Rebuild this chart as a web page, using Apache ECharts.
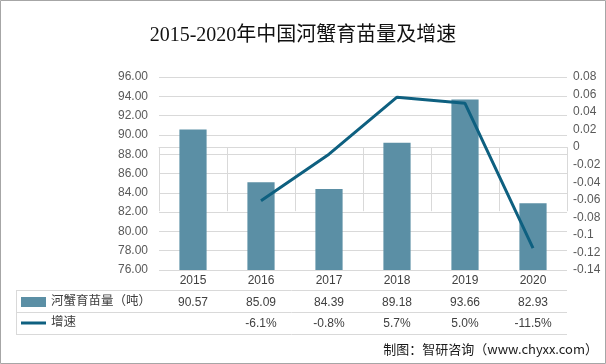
<!DOCTYPE html>
<html><head><meta charset="utf-8">
<script src="https://cdn.jsdelivr.net/npm/echarts@6/dist/echarts.min.js"></script>
<style>html,body{margin:0;padding:0;background:#fff}#c{width:606px;height:364px}</style>
</head><body><div id="c"></div>
<script>
var titleText = '2015-2020年中国河蟹育苗量及增速';
var years = ['2015','2016','2017','2018','2019','2020'];
var output = [90.57, 85.09, 84.39, 89.18, 93.66, 82.93];
var growth = [null, -0.061, -0.008, 0.057, 0.050, -0.115];
var growthLabels = ['', '-6.1%', '-0.8%', '5.7%', '5.0%', '-11.5%'];
var seriesNames = ['河蟹育苗量（吨）', '增速'];
var sourceText = '制图：智研咨询（www.chyxx.com）';

var barColor = '#5B8FA5';
var lineColor = '#0E6080';
var txt = '#404040';
var rule = '#d9d9d9';

var chart = echarts.init(document.getElementById('c'));
chart.setOption({
  animation: false,
  title: {
    text: titleText, left: 'center', top: 21,
    textStyle: {fontFamily: '"Liberation Serif","Noto Sans CJK SC"', fontSize: 20, fontWeight: 'normal', color: '#111'}
  },
  grid: {left: 159, right: 39, top: 77, bottom: 94},
  xAxis: {
    type: 'category', data: years, boundaryGap: true,
    axisLine: {show: true, lineStyle: {color: rule, width: 1}},
    axisTick: {show: true, length: 64, lineStyle: {color: rule}},
    axisLabel: {
      margin: 0, interval: 0,
      formatter: function (v, i) {
        return '{a|' + v + '}\n{a|' + output[i].toFixed(2) + '}\n{a|' + (growthLabels[i] || ' ') + '}';
      },
      rich: {a: {fontSize: 12, lineHeight: 21.5, color: txt, fontFamily: '"Liberation Sans","Noto Sans CJK SC"'}}
    }
  },
  yAxis: [{
    type: 'value', min: 76, max: 96, interval: 2,
    axisLine: {show: false}, axisTick: {show: false},
    axisLabel: {color: '#595959', fontSize: 12, margin: 11, fontFamily: '"Liberation Sans"',
      formatter: function (v) { return v.toFixed(2); }},
    splitLine: {lineStyle: {color: rule}}
  }, {
    type: 'value', min: -0.14, max: 0.08, interval: 0.02,
    axisLine: {show: false}, axisTick: {show: false},
    axisLabel: {color: '#595959', fontSize: 12, margin: 6, fontFamily: '"Liberation Sans"',
      formatter: function (v) { return String(parseFloat(v.toFixed(2))); }},
    splitLine: {show: false}
  }],
  series: [{
    name: seriesNames[0], type: 'bar', data: output, barWidth: '40%',
    itemStyle: {color: barColor}
  }, {
    name: seriesNames[1], type: 'line', yAxisIndex: 1, data: growth,
    symbol: 'none', lineStyle: {color: lineColor, width: 3}
  }],
  graphic: [
    {type: 'rect', shape: {x: 0.5, y: 0.5, width: 605, height: 363}, style: {fill: 'none', stroke: '#a6a6a6', lineWidth: 1}, silent: true},
    {type: 'line', shape: {x1: 16, y1: 290.5, x2: 567, y2: 290.5}, style: {stroke: rule, lineWidth: 1}},
    {type: 'line', shape: {x1: 16, y1: 312.5, x2: 567, y2: 312.5}, style: {stroke: rule, lineWidth: 1}},
    {type: 'line', shape: {x1: 16, y1: 334.5, x2: 567, y2: 334.5}, style: {stroke: rule, lineWidth: 1}},
    {type: 'line', shape: {x1: 16.5, y1: 290, x2: 16.5, y2: 334}, style: {stroke: rule, lineWidth: 1}},
    {type: 'rect', shape: {x: 21, y: 297, width: 25, height: 10}, style: {fill: barColor}},
    {type: 'text', left: 51, top: 294, style: {text: seriesNames[0], fontSize: 12.5, fill: txt, fontFamily: '"Noto Sans CJK SC"'}},
    {type: 'line', shape: {x1: 21, y1: 323, x2: 46, y2: 323}, style: {stroke: lineColor, lineWidth: 3}},
    {type: 'text', left: 51, top: 315, style: {text: seriesNames[1], fontSize: 12.5, fill: txt, fontFamily: '"Noto Sans CJK SC"'}},
    {type: 'text', right: 8, top: 343, style: {text: sourceText, fontSize: 13, fill: '#1a1a1a', fontFamily: '"Noto Sans CJK SC"'}}
  ]
});
</script></body></html>
